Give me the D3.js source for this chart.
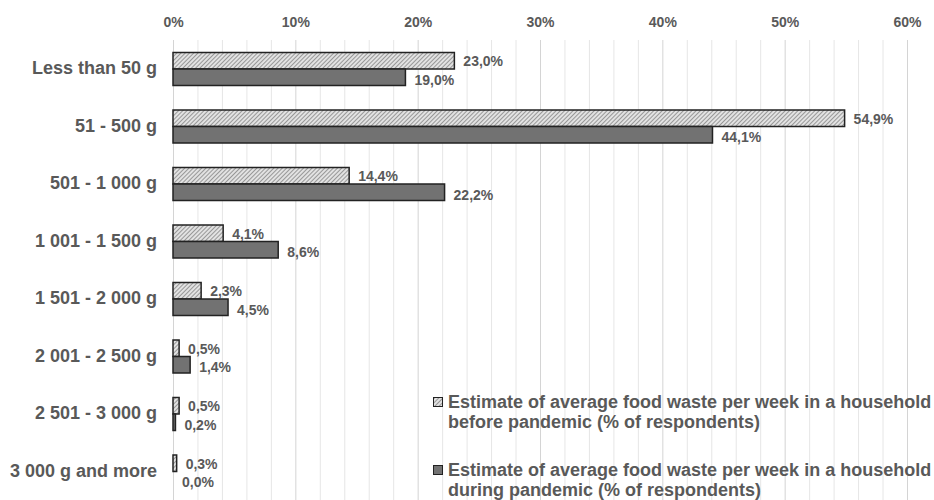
<!DOCTYPE html>
<html>
<head>
<meta charset="utf-8">
<script src="https://cdn.jsdelivr.net/npm/d3@7"></script>
<style>
  html, body { margin: 0; padding: 0; background: #fff; }
  svg { display: block; }
  text { font-family: "Liberation Sans", Arial, sans-serif; font-weight: bold; fill: #595959; }
</style>
</head>
<body>
<svg id="chart" width="934" height="500"></svg>
<script>
// Weekly household food waste, share of respondents
const categories = [
  "Less than 50 g", "51 - 500 g", "501 - 1 000 g", "1 001 - 1 500 g",
  "1 501 - 2 000 g", "2 001 - 2 500 g", "2 501 - 3 000 g", "3 000 g and more"
];
const beforePandemic = [23.0, 54.9, 14.4, 4.1, 2.3, 0.5, 0.5, 0.3];
const duringPandemic = [19.0, 44.1, 22.2, 8.6, 4.5, 1.4, 0.2, 0.0];
const seriesNames = [
  "Estimate of average food waste per week in a household before pandemic (% of respondents)",
  "Estimate of average food waste per week in a household during pandemic (% of respondents)"
];
const majorTicks = [0, 10, 20, 30, 40, 50, 60];

const svg = d3.select("#chart");
const W = 934, H = 500;
const margin = { top: 40.25, right: 27, bottom: -0.25, left: 173 };

const x = d3.scaleLinear().domain([0, 60]).range([margin.left, W - margin.right]);
const y = d3.scaleBand().domain(categories)
  .range([margin.top, H - margin.bottom])
  .paddingInner(1 - 33 / 57.5).paddingOuter((1 - 33 / 57.5) / 2);
const ySub = d3.scaleBand().domain([0, 1]).range([0, y.bandwidth()]);

const fmt = v => d3.format(".1f")(v).replace(".", ",") + "%";

// Hatch pattern for the pre-pandemic series
const defs = svg.append("defs");
const pat = defs.append("pattern")
  .attr("id", "hatch").attr("patternUnits", "userSpaceOnUse")
  .attr("width", 3).attr("height", 3)
  .attr("patternTransform", "rotate(45)");
pat.append("rect").attr("width", 3).attr("height", 3).attr("fill", "#e2e2e2");
pat.append("line").attr("x1", 0).attr("y1", 0).attr("x2", 0).attr("y2", 3)
  .attr("stroke", "#5a5a5a").attr("stroke-width", 1.1);

const fills = ["url(#hatch)", "#727272"];

// Gridlines: minor every 2 %, major every 10 %
const gridTop = 40, gridBottom = 500;
svg.append("g").selectAll("line")
  .data(d3.range(0, 61, 2))
  .join("line")
  .attr("x1", d => x(d) + 0.5).attr("x2", d => x(d) + 0.5)
  .attr("y1", gridTop).attr("y2", gridBottom)
  .attr("stroke", d => d % 10 === 0 ? "#d4d4d4" : "#e6e6e6")
  .attr("stroke-width", 1);

// Top axis tick labels
const xAxis = d3.axisTop(x).tickValues(majorTicks).tickFormat(d => d + "%").tickSize(0).tickPadding(0);
const gx = svg.append("g").attr("transform", "translate(0,27)").call(xAxis);
gx.select(".domain").remove();
gx.selectAll("text").attr("font-size", 14).attr("font-family", "Liberation Sans, Arial, sans-serif")
  .attr("font-weight", "bold").attr("fill", "#595959");

// Category labels
const yAxis = d3.axisLeft(y).tickSize(0).tickPadding(16);
const gy = svg.append("g").attr("transform", `translate(${margin.left},0)`).call(yAxis);
gy.select(".domain").remove();
gy.selectAll("text").attr("font-size", 18).attr("font-family", "Liberation Sans, Arial, sans-serif")
  .attr("font-weight", "bold").attr("fill", "#595959").attr("dy", "0.3em");

// Bars and value labels
const series = [beforePandemic, duringPandemic];
series.forEach((vals, si) => {
  const g = svg.append("g");
  g.selectAll("rect")
    .data(vals.map((v, i) => ({ v, c: categories[i] })))
    .join("rect")
    .attr("x", x(0))
    .attr("y", d => y(d.c) + ySub(si))
    .attr("width", d => x(d.v) - x(0))
    .attr("height", ySub.bandwidth())
    .attr("fill", fills[si])
    .attr("stroke", "#222")
    .attr("stroke-width", 1.5);
  g.selectAll("text")
    .data(vals.map((v, i) => ({ v, c: categories[i] })))
    .join("text")
    .attr("x", d => x(d.v) + 9)
    .attr("y", d => y(d.c) + ySub(si) + ySub.bandwidth() / 2 + (si === 0 ? 0.5 : 2.5))
    .attr("dy", "0.35em")
    .attr("font-size", 14)
    .text(d => fmt(d.v));
});

// Legend
const legend = svg.append("g").attr("transform", "translate(433,0)");
const legendRows = [
  { base: 408, lines: ["Estimate of average food waste per week in a household", "before pandemic (% of respondents)"] },
  { base: 476, lines: ["Estimate of average food waste per week in a household", "during pandemic (% of respondents)"] }
];
legendRows.forEach((row, i) => {
  const item = legend.append("g").attr("aria-label", seriesNames[i]);
  item.append("rect").attr("x", 0.5).attr("y", row.base - 10.5).attr("width", 9).attr("height", 9)
    .attr("fill", fills[i]).attr("stroke", "#222").attr("stroke-width", 1);
  item.selectAll("text").data(row.lines).join("text")
    .attr("x", 15).attr("y", (d, j) => row.base + j * 20)
    .attr("font-size", 18)
    .text(d => d);
});
</script>
</body>
</html>
